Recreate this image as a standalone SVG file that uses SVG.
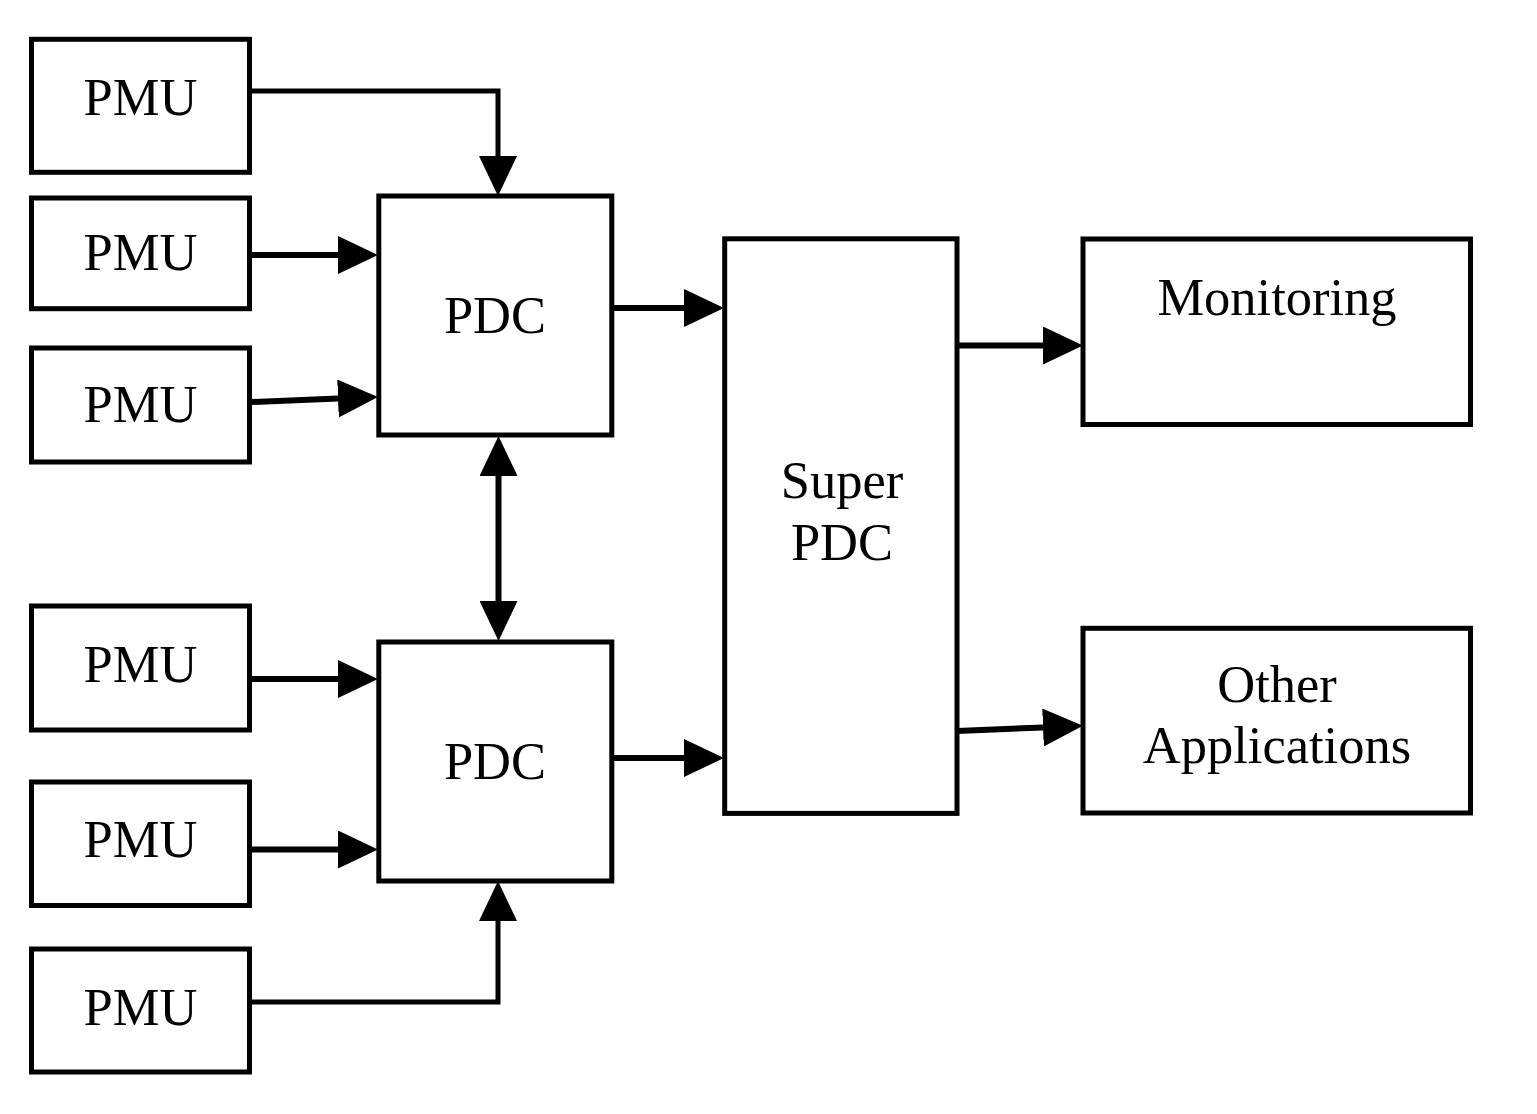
<svg xmlns="http://www.w3.org/2000/svg" width="1537" height="1114" viewBox="0 0 1537 1114">
<style>
.box{fill:#fff;stroke:#000;stroke-width:5}
.lbl{font-family:"Liberation Serif","Times New Roman",serif;font-size:52.5px;fill:#000;text-anchor:middle}
.cn{fill:none;stroke:#000;stroke-width:6;marker-end:url(#arr)}
.el{stroke-width:5}
</style>
<defs>
<marker id="arr" viewBox="0 0 40 38" markerWidth="40" markerHeight="38" refX="0" refY="19" markerUnits="userSpaceOnUse" orient="auto-start-reverse">
<path d="M0,0 L40,19 L0,38 z" fill="#000"/>
</marker>
</defs>
<rect width="1537" height="1114" fill="#fff"/>
<g id="connectors">
<path class="cn el" d="M251,91 H498 V156"/>
<path class="cn" d="M251,255 H338"/>
<path class="cn" d="M251,402 L338,398.6"/>
<path class="cn" d="M612,308 H684"/>
<path class="cn" d="M498.5,476 V601" style="marker-start:url(#arr)"/>
<path class="cn" d="M251,679 H338"/>
<path class="cn" d="M251,849.5 H338"/>
<path class="cn el" d="M251,1002 H498 V921"/>
<path class="cn" d="M612,758 H684"/>
<path class="cn" d="M957,345.5 H1043"/>
<path class="cn" d="M957,731 L1043,727.5"/>
</g>
<g id="pmu1"><rect class="box" x="31.5" y="39.3" width="218" height="133"/><text class="lbl" x="140.5" y="115">PMU</text></g>
<g id="pmu2"><rect class="box" x="31.5" y="198" width="218" height="110.7"/><text class="lbl" x="140.5" y="270">PMU</text></g>
<g id="pmu3"><rect class="box" x="31.5" y="348" width="218" height="114"/><text class="lbl" x="140.5" y="421.5">PMU</text></g>
<g id="pdc1"><rect class="box" x="378.8" y="196" width="233" height="239"/><text class="lbl" x="495" y="333">PDC</text></g>
<g id="pmu4"><rect class="box" x="31.5" y="606" width="218" height="124"/><text class="lbl" x="140.5" y="681.5">PMU</text></g>
<g id="pmu5"><rect class="box" x="31.5" y="782" width="218" height="123.5"/><text class="lbl" x="140.5" y="856.5">PMU</text></g>
<g id="pmu6"><rect class="box" x="31.5" y="949" width="218" height="123"/><text class="lbl" x="140.5" y="1024.5">PMU</text></g>
<g id="pdc2"><rect class="box" x="378.8" y="642" width="233" height="239"/><text class="lbl" x="495" y="779">PDC</text></g>
<g id="superpdc"><rect class="box" x="724.7" y="238.8" width="232.3" height="574.6"/><text class="lbl" x="842" y="498">Super</text><text class="lbl" x="842" y="560">PDC</text></g>
<g id="monitoring"><rect class="box" x="1083" y="239" width="387.5" height="185.5"/><text class="lbl" x="1277" y="315">Monitoring</text></g>
<g id="other"><rect class="box" x="1083" y="628.3" width="387.5" height="184.7"/><text class="lbl" x="1277" y="701.5">Other</text><text class="lbl" x="1277" y="763">Applications</text></g>
</svg>
